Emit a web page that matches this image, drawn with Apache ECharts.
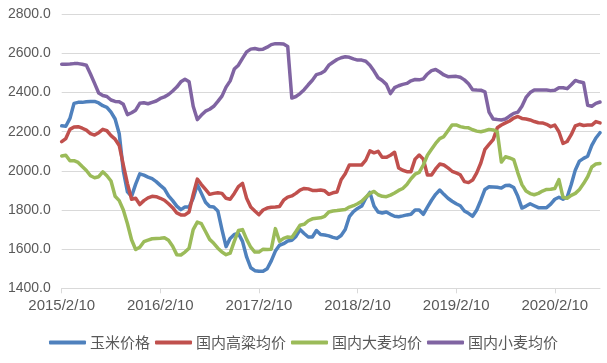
<!DOCTYPE html>
<html>
<head>
<meta charset="utf-8">
<script src="https://cdn.jsdelivr.net/npm/echarts@6/dist/echarts.min.js"></script>
<style>
html,body{margin:0;padding:0;background:#fff;}
#c{width:607px;height:363px;}
</style>
</head>
<body>
<div id="c"></div>
<script>
// Semi-monthly dates (10th and 25th), from 2015/2/10 to 2020/7/25
const categories = [];
(function(){
  let y = 2015, m = 2;
  while (categories.length < 132) {
    categories.push(y + '/' + m + '/10');
    if (categories.length < 132) categories.push(y + '/' + m + '/25');
    m++; if (m > 12) { m = 1; y++; }
  }
})();

const seriesNames = ['玉米价格', '国内高粱均价', '国内大麦均价', '国内小麦均价'];

const corn = [
2230,2228,2268,2345,2350,2350,2353,2355,2355,2347,2333,2325,2300,2265,2190,2000,1893,1870,1932,1985,
1978,1968,1960,1945,1926,1908,1872,1848,1820,1802,1815,1816,1860,1930,1885,1840,1818,1815,1795,1700,
1613,1655,1675,1680,1640,1560,1505,1490,1487,1487,1500,1540,1590,1620,1628,1642,1645,1665,1700,1680,
1662,1662,1695,1675,1672,1668,1660,1655,1670,1700,1766,1792,1808,1820,1860,1890,1820,1790,1785,1790,
1778,1768,1766,1770,1775,1778,1800,1800,1778,1815,1850,1880,1902,1880,1860,1845,1832,1822,1795,1783,
1768,1800,1850,1905,1919,1918,1916,1912,1925,1926,1915,1870,1810,1820,1832,1822,1812,1812,1812,1830,
1855,1865,1855,1865,1930,2005,2050,2064,2075,2130,2168,2195
];

const sorghum = [
2149,2165,2212,2224,2226,2218,2208,2190,2183,2195,2212,2205,2180,2162,2130,2030,1935,1855,1860,1828,
1848,1862,1870,1868,1860,1850,1832,1812,1785,1775,1775,1790,1880,1958,1930,1905,1880,1885,1888,1885,
1860,1855,1885,1920,1936,1860,1815,1795,1776,1800,1810,1814,1815,1818,1850,1866,1872,1885,1902,1910,
1908,1900,1900,1902,1898,1880,1888,1892,1955,1985,2030,2030,2030,2030,2055,2102,2092,2100,2069,2069,
2080,2095,2015,2003,1996,1996,2060,2081,2060,1979,1979,2010,2035,2030,2015,1998,1990,1980,1945,1940,
1953,1990,2040,2110,2135,2160,2220,2234,2245,2255,2270,2278,2268,2265,2260,2252,2246,2245,2238,2226,
2234,2200,2140,2150,2185,2230,2238,2232,2234,2234,2252,2245
];

const barley = [
2076,2080,2052,2052,2043,2022,2002,1975,1965,1970,1995,1975,1948,1870,1848,1800,1730,1648,1598,1610,
1638,1646,1653,1655,1656,1658,1645,1615,1572,1570,1585,1605,1700,1738,1730,1690,1650,1630,1605,1585,
1572,1580,1640,1695,1700,1650,1610,1585,1585,1600,1598,1600,1705,1640,1655,1662,1660,1690,1722,1727,
1745,1755,1758,1760,1768,1790,1795,1797,1800,1803,1815,1822,1832,1845,1865,1885,1895,1878,1870,1868,
1876,1887,1900,1910,1930,1960,1983,1992,2030,2080,2110,2140,2165,2175,2205,2235,2235,2226,2222,2220,
2210,2203,2200,2205,2212,2209,2200,2045,2072,2066,2058,1990,1930,1897,1884,1878,1885,1897,1905,1906,
1910,1955,1865,1860,1875,1885,1905,1935,1970,2020,2035,2038
];

const wheat = [
2545,2545,2546,2548,2548,2545,2540,2495,2447,2398,2385,2380,2362,2355,2353,2340,2287,2297,2310,2345,
2348,2343,2350,2357,2370,2378,2390,2408,2428,2455,2468,2455,2330,2262,2285,2305,2315,2330,2355,2382,
2428,2460,2520,2540,2575,2608,2622,2625,2620,2622,2632,2645,2650,2650,2648,2636,2372,2380,2395,2415,
2440,2463,2492,2498,2510,2540,2555,2569,2578,2583,2580,2572,2566,2566,2560,2540,2510,2476,2462,2442,
2395,2425,2435,2442,2447,2460,2467,2465,2470,2495,2512,2518,2505,2490,2481,2482,2483,2478,2465,2445,
2415,2413,2412,2404,2300,2265,2262,2260,2265,2280,2294,2300,2330,2375,2400,2413,2413,2413,2413,2410,
2412,2425,2425,2420,2440,2462,2455,2450,2335,2330,2345,2352
];

const colors = ['#4F81BD', '#C0504D', '#9BBB59', '#8064A2'];
const dataSets = [corn, sorghum, barley, wheat];

const chart = echarts.init(document.getElementById('c'), null, {renderer: 'canvas'});
const option = {
  animation: false,
  backgroundColor: '#ffffff',
  color: colors,
  grid: { left: 61.7, right: 7, top: 14.3, bottom: 74.7, containLabel: false },
  legend: {
    bottom: 8,
    left: 'center',
    itemWidth: 37,
    itemHeight: 4,
    itemGap: 5,
    icon: 'roundRect',
    textStyle: { color: '#595959', fontSize: 15, fontFamily: '"Noto Sans CJK SC", "Liberation Sans", sans-serif', padding: [0, 0, 0, -1] },
    data: seriesNames
  },
  xAxis: {
    type: 'category',
    data: categories,
    boundaryGap: false,
    axisLine: { show: true, lineStyle: { color: '#d9d9d9', width: 1 } },
    axisTick: { show: true, interval: 23, length: 5, lineStyle: { color: '#d9d9d9' } },
    axisLabel: { interval: 23, color: '#595959', fontSize: 15, margin: 10, fontFamily: '"Liberation Sans", sans-serif' },
    splitLine: { show: false }
  },
  yAxis: {
    type: 'value',
    min: 1400,
    max: 2800,
    interval: 200,
    axisLine: { show: false },
    axisTick: { show: false },
    axisLabel: { color: '#595959', fontSize: 14, margin: 11, fontFamily: '"Liberation Sans", sans-serif', formatter: v => v.toFixed(1) },
    splitLine: { lineStyle: { color: '#d9d9d9', width: 1 } }
  },
  series: seriesNames.map((n, k) => ({
    name: n,
    type: 'line',
    data: dataSets[k],
    showSymbol: false,
    symbol: 'none',
    lineStyle: { width: 3.5, color: colors[k], cap: 'round', join: 'round' },
    itemStyle: { color: colors[k] }
  }))
};
chart.setOption(option);
</script>
</body>
</html>
